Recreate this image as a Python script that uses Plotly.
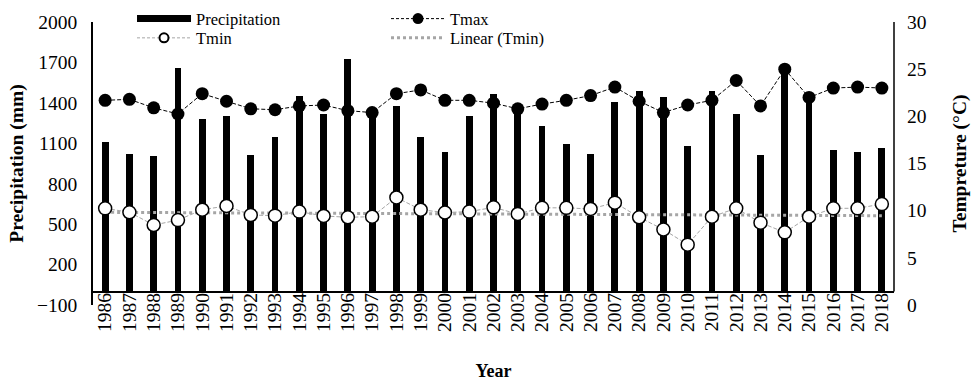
import numpy as np
import plotly.graph_objects as go

# Annual series, 1986-2018
years = [str(y) for y in range(1986, 2019)]
precipitation = [1110, 1020, 1005, 1655, 1280, 1305, 1015, 1150, 1450, 1315,
                 1728, 1300, 1378, 1145, 1033, 1300, 1465, 1345, 1230, 1095,
                 1023, 1410, 1490, 1440, 1078, 1488, 1317, 1010, 1650, 1440,
                 1048, 1033, 1065]
tmax = [21.7, 21.8, 20.9, 20.25, 22.4, 21.6, 20.8, 20.7, 21.1, 21.2,
        20.6, 20.4, 22.4, 22.8, 21.7, 21.7, 21.4, 20.8, 21.3, 21.7,
        22.2, 23.1, 21.6, 20.4, 21.2, 21.7, 23.8, 21.1, 25.0, 22.0,
        23.0, 23.1, 23.0]
tmin = [10.25, 9.83, 8.48, 9.0, 10.1, 10.5, 9.54, 9.47, 9.9, 9.44,
        9.3, 9.36, 11.4, 10.1, 9.8, 9.9, 10.35, 9.65, 10.3, 10.3,
        10.18, 10.85, 9.3, 8.0, 6.4, 9.36, 10.25, 8.73, 7.7, 9.36,
        10.25, 10.25, 10.7]
precip_ticks = [-100, 200, 500, 800, 1100, 1400, 1700, 2000]
temp_ticks = [0, 5, 10, 15, 20, 25, 30]

# Least-squares linear trend of Tmin
idx = np.arange(len(years))
slope, intercept = np.polyfit(idx, tmin, 1)
tmin_trend = slope * idx + intercept

FONT = "Liberation Serif, Times New Roman, serif"
GRAY = "#A6A6A6"
P_RANGE = [-100, 2000]
SHORT_DASH = "4px,2px"

fig = go.Figure()

fig.add_trace(go.Bar(
    x=years, y=precipitation, name="Precipitation", width=0.28,
    marker=dict(color="black", line=dict(width=0)), showlegend=False,
))
fig.add_trace(go.Scatter(
    x=years, y=tmin_trend, yaxis="y2", mode="lines", name="Linear (Tmin)",
    line=dict(color=GRAY, width=3, dash="dot"), legend="legend4",
))
fig.add_trace(go.Scatter(
    x=years, y=tmin, yaxis="y2", mode="lines+markers", name="Tmin",
    line=dict(color=GRAY, width=1, dash=SHORT_DASH),
    marker=dict(size=13, color="white", line=dict(color="black", width=1.5)),
    showlegend=False,
))
fig.add_trace(go.Scatter(
    x=years, y=tmax, yaxis="y2", mode="lines+markers", name="Tmax",
    line=dict(color="black", width=1, dash=SHORT_DASH),
    marker=dict(size=13, color="black"),
    showlegend=False,
))

# legend keys (smaller symbols than the plotted markers)
fig.add_trace(go.Scatter(
    x=[None], y=[None], mode="lines", name="Precipitation",
    line=dict(color="black", width=7), legend="legend",
))
fig.add_trace(go.Scatter(
    x=[None], y=[None], yaxis="y2", mode="lines+markers", name="Tmax",
    line=dict(color="black", width=1, dash="3px,2px"),
    marker=dict(size=11, color="black"), legend="legend2",
))
fig.add_trace(go.Scatter(
    x=[None], y=[None], yaxis="y2", mode="lines+markers", name="Tmin",
    line=dict(color=GRAY, width=1, dash="3px,2px"),
    marker=dict(size=9, color="white", line=dict(color="black", width=2)),
    legend="legend3",
))

# right-hand axis line from the 0 mm baseline to the top
fig.add_shape(type="line", xref="paper", yref="y", x0=1, x1=1, y0=0, y1=P_RANGE[1],
              line=dict(color="black", width=1.5))

def legend_box(xf, yf):
    return dict(x=xf, y=yf, xanchor="left", yanchor="middle",
                bgcolor="rgba(0,0,0,0)", itemwidth=54,
                font=dict(family=FONT, size=16.5, color="black"))

zero_frac = (0 - P_RANGE[0]) / (P_RANGE[1] - P_RANGE[0])

fig.update_layout(
    width=973, height=384,
    margin=dict(l=93, r=79, t=22, b=79, autoexpand=False),
    paper_bgcolor="white", plot_bgcolor="white",
    font=dict(family=FONT, color="black"),
    bargap=0,
    legend=legend_box(0.0487, 1.011),
    legend2=legend_box(0.3658, 1.011),
    legend3=legend_box(0.0487, 0.943),
    legend4=legend_box(0.3658, 0.943),
    xaxis=dict(
        type="category", categoryorder="array", categoryarray=years,
        range=[-0.5, len(years) - 0.5],
        anchor="free", position=zero_frac,
        showline=True, linecolor="black", linewidth=1.5,
        ticks="", showgrid=False, zeroline=False, ticklabelstandoff=-7,
        tickangle=-90, tickfont=dict(family=FONT, size=19.5),
        title=dict(text="<b>Year</b>", font=dict(family=FONT, size=18), standoff=32),
    ),
    yaxis=dict(
        range=P_RANGE, tickvals=precip_ticks,
        showline=True, linecolor="black", linewidth=1.5,
        ticks="", showgrid=False, zeroline=False, ticklabelstandoff=10,
        tickfont=dict(family=FONT, size=19.5),
        title=dict(text="<b>Precipitation (mm)</b>", font=dict(family=FONT, size=19.5), standoff=8),
    ),
    yaxis2=dict(
        overlaying="y", side="right", range=[0, 30], tickvals=temp_ticks,
        showline=False, ticks="", showgrid=False, zeroline=False, ticklabelstandoff=12,
        tickfont=dict(family=FONT, size=19.5),
        title=dict(text="<b>Tempreture (°C)</b>", font=dict(family=FONT, size=19.5), standoff=26),
    ),
)

fig.write_html("out.html")
